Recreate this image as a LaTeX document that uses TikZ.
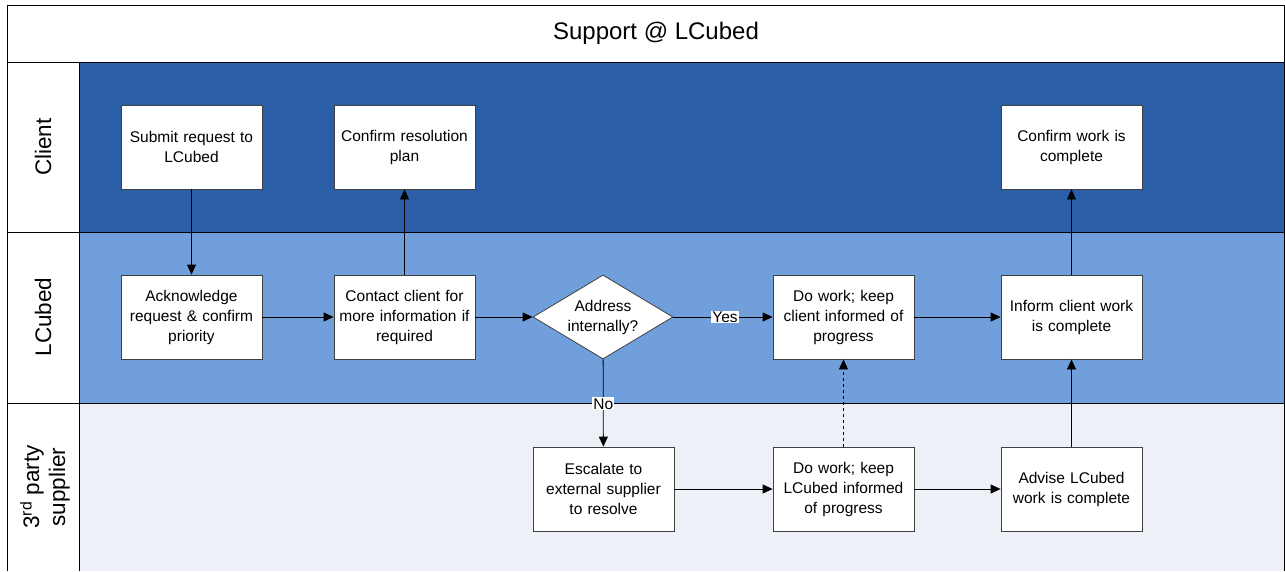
\documentclass[tikz,border=0pt]{standalone}
\usepackage{fontspec}
\setmainfont{Liberation Sans}
\usetikzlibrary{shapes.geometric,arrows.meta}
\definecolor{clientblue}{HTML}{2A5EA6}
\definecolor{lcubedblue}{HTML}{709FDB}
\definecolor{suppgray}{HTML}{EDF0F6}
\definecolor{boxedge}{HTML}{404040}
\begin{document}
\begin{tikzpicture}[x=1pt,y=-1pt,
  procbox/.style={draw=boxedge,fill=white,line width=0.8pt,minimum width=141pt,minimum height=84pt,
    text width=136pt,align=center,inner sep=0pt,font=\fontsize{15.5}{20}\selectfont},
  decbox/.style={draw=boxedge,fill=white,line width=0.8pt,diamond,aspect=1.67,minimum width=140pt,minimum height=84pt,
    inner sep=0pt,align=center,font=\fontsize{15.5}{20}\selectfont},
  flow/.style={-{Triangle[length=10pt,width=9pt]},line width=0.8pt,black},
  lanelabel/.style={rotate=90,align=center,font=\fontsize{22.5}{26}\selectfont},
  edgelabel/.style={fill=white,inner sep=1pt,font=\fontsize{15.5}{17}\selectfont}
]
\useasboundingbox (0,0) rectangle (1285,571);
% lanes
\fill[white] (7,5) rectangle (1284,62);
\fill[clientblue] (79,62) rectangle (1284,232);
\fill[lcubedblue] (79,232) rectangle (1284,403);
\fill[suppgray] (79,403) rectangle (1284,571);
\fill[white] (7,62) rectangle (79,571);
\draw[line width=0.8pt] (7,571) -- (7,5) -- (1284,5) -- (1284,571);
\draw[line width=0.8pt] (7,62) -- (1284,62);
\draw[line width=0.8pt] (7,232) -- (1284,232);
\draw[line width=0.8pt] (7,403) -- (1284,403);
\draw[line width=0.8pt] (79,62) -- (79,571);
\node[font=\fontsize{24}{28}\selectfont] (title) at (656,33) {Support @ LCubed};
\node[lanelabel] (lclient) at (43,147) {Client};
\node[lanelabel] (llcubed) at (43,317) {LCubed};
\node[lanelabel] (lsupp) at (45,487) {3\textsuperscript{rd} party\\supplier};
% nodes
\node[procbox] (submit) at (191.5,147) {Submit request to\\LCubed};
\node[procbox] (confres) at (404.5,147) {Confirm resolution\\plan};
\node[procbox] (confwork) at (1071.5,147) {Confirm work is\\complete};
\node[procbox] (ack) at (191.5,317) {Acknowledge\\request \& confirm\\priority};
\node[procbox] (contact) at (404.5,317) {Contact client for\\more information if\\required};
\node[decbox] (addr) at (603,317) {Address\\internally?};
\node[procbox] (dowork) at (843.5,317) {Do work; keep\\client informed of\\progress};
\node[procbox] (inform) at (1071.5,317) {Inform client work\\is complete};
\node[procbox] (escalate) at (603.5,489) {Escalate to\\external supplier\\to resolve};
\node[procbox] (dowork3) at (843.5,489) {Do work; keep\\LCubed informed\\of progress};
\node[procbox] (advise) at (1071.5,489) {Advise LCubed\\work is complete};
% connectors
\draw[flow] (submit) -- (ack);
\draw[flow] (contact) -- (confres);
\draw[flow] (ack) -- (contact);
\draw[flow] (contact) -- (addr);
\draw[flow] (addr) -- node[edgelabel,pos=0.52] {Yes} (dowork);
\draw[flow] (addr) -- node[edgelabel,pos=0.51] {No} (escalate);
\draw[flow] (escalate) -- (dowork3);
\draw[flow,dashed] (dowork3) -- (dowork);
\draw[flow] (dowork3) -- (advise);
\draw[flow] (advise) -- (inform);
\draw[flow] (dowork) -- (inform);
\draw[flow] (inform) -- (confwork);
\end{tikzpicture}
\end{document}
